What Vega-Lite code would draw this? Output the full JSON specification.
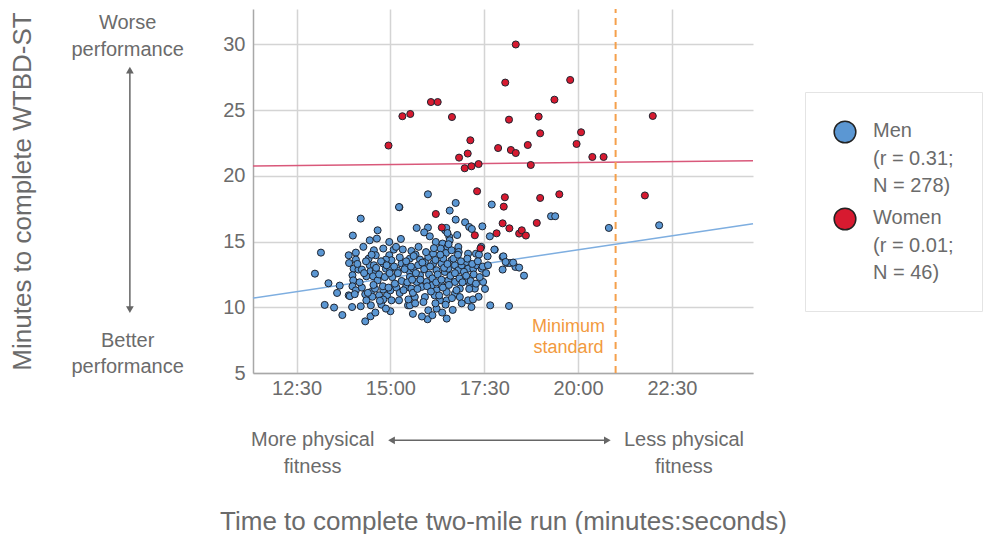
{
  "$schema": "https://vega.github.io/schema/vega-lite/v6.json",
  "width": 500,
  "height": 364,
  "autosize": {"type": "none"},
  "padding": {"left": 253, "top": 9, "right": 237, "bottom": 161},
  "background": "white",
  "config": {
    "font": "Liberation Sans",
    "view": {"stroke": null},
    "axis": {
      "labelFontSize": 20,
      "labelColor": "#6b6b6b",
      "titleColor": "#6b6b6b",
      "titleFontSize": 26,
      "titleFontWeight": "normal",
      "gridColor": "#d4d4d4",
      "gridWidth": 1.5,
      "domainColor": "#a8a8a8",
      "domainWidth": 1.5,
      "ticks": false
    },
    "legend": {
      "orient": "none",
      "legendX": 552,
      "legendY": 83,
      "fillColor": "white",
      "strokeColor": "#e4e4e4",
      "padding": 28,
      "labelFontSize": 20,
      "labelColor": "#6b6b6b",
      "labelLimit": 400,
      "labelOffset": 16,
      "labelBaseline": "alphabetic",
      "symbolSize": 470,
      "symbolType": "circle",
      "symbolStrokeColor": "#222222",
      "symbolStrokeWidth": 1.5,
      "symbolOpacity": 1,
      "rowPadding": 9
    }
  },
  "datasets": {
    "runners": [
      {"sex":"Men","run":16.00,"wtbd":18.60},{"sex":"Men","run":15.24,"wtbd":17.61},{"sex":"Men","run":16.74,"wtbd":17.94},{"sex":"Men","run":16.58,"wtbd":17.36},{"sex":"Men","run":15.70,"wtbd":16.04},{"sex":"Men","run":16.00,"wtbd":16.07},{"sex":"Men","run":16.74,"wtbd":16.67},{"sex":"Men","run":16.99,"wtbd":16.47},{"sex":"Men","run":17.10,"wtbd":16.11},{"sex":"Men","run":17.17,"wtbd":15.96},{"sex":"Men","run":17.45,"wtbd":16.16},{"sex":"Men","run":17.70,"wtbd":17.82},{"sex":"Men","run":19.28,"wtbd":16.93},{"sex":"Men","run":19.39,"wtbd":16.93},{"sex":"Men","run":20.82,"wtbd":16.04},{"sex":"Men","run":16.46,"wtbd":15.86},{"sex":"Men","run":16.57,"wtbd":15.35},{"sex":"Men","run":22.16,"wtbd":16.24},
      {"sex":"Men","run":17.65,"wtbd":15.40},{"sex":"Men","run":17.78,"wtbd":14.39},{"sex":"Men","run":17.99,"wtbd":13.83},{"sex":"Men","run":18.10,"wtbd":13.37},{"sex":"Men","run":18.18,"wtbd":13.37},{"sex":"Men","run":18.33,"wtbd":13.07},{"sex":"Men","run":18.43,"wtbd":13.02},{"sex":"Men","run":17.99,"wtbd":12.87},{"sex":"Men","run":18.56,"wtbd":12.41},{"sex":"Men","run":17.66,"wtbd":10.15},{"sex":"Men","run":18.16,"wtbd":10.10},
      {"sex":"Men","run":12.99,"wtbd":12.56},{"sex":"Men","run":13.15,"wtbd":14.16},{"sex":"Men","run":13.35,"wtbd":11.83},{"sex":"Men","run":13.25,"wtbd":10.18},{"sex":"Men","run":13.50,"wtbd":9.98},{"sex":"Men","run":13.58,"wtbd":11.09},{"sex":"Men","run":13.65,"wtbd":11.65},{"sex":"Men","run":13.72,"wtbd":9.41},{"sex":"Men","run":13.89,"wtbd":10.91},{"sex":"Men","run":13.98,"wtbd":10.02},{"sex":"Men","run":14.21,"wtbd":16.75},{"sex":"Men","run":14.00,"wtbd":15.46},
      {"sex":"Men","run":15.23,"wtbd":17.63},{"sex":"Men","run":14.66,"wtbd":15.86},{"sex":"Men","run":14.64,"wtbd":15.23},{"sex":"Men","run":14.97,"wtbd":14.97},{"sex":"Men","run":14.21,"wtbd":10.08},{"sex":"Men","run":14.48,"wtbd":10.15},{"sex":"Men","run":14.33,"wtbd":8.93},{"sex":"Men","run":14.47,"wtbd":9.31},{"sex":"Men","run":14.76,"wtbd":10.20},{"sex":"Men","run":15.00,"wtbd":9.70},{"sex":"Men","run":15.23,"wtbd":10.53},{"sex":"Men","run":15.47,"wtbd":10.15},
      {"sex":"Men","run":13.89,"wtbd":13.96},{"sex":"Men","run":14.08,"wtbd":14.16},{"sex":"Men","run":13.90,"wtbd":13.37},{"sex":"Men","run":14.08,"wtbd":13.63},{"sex":"Men","run":14.02,"wtbd":12.94},{"sex":"Men","run":13.99,"wtbd":12.44},{"sex":"Men","run":14.15,"wtbd":12.87},{"sex":"Men","run":14.24,"wtbd":12.87},{"sex":"Men","run":14.45,"wtbd":13.20},{"sex":"Men","run":14.56,"wtbd":13.20},{"sex":"Men","run":14.47,"wtbd":12.74},{"sex":"Men","run":14.61,"wtbd":12.76},{"sex":"Men","run":14.36,"wtbd":12.36},{"sex":"Men","run":14.54,"wtbd":12.36},{"sex":"Men","run":14.66,"wtbd":12.05},{"sex":"Men","run":14.88,"wtbd":12.94},{"sex":"Men","run":14.99,"wtbd":12.94},{"sex":"Men","run":15.18,"wtbd":12.82},{"sex":"Men","run":15.30,"wtbd":13.33},{"sex":"Men","run":15.41,"wtbd":13.07},{"sex":"Men","run":15.52,"wtbd":12.69},
      {"sex":"Men","run":14.56,"wtbd":14.34},{"sex":"Men","run":14.61,"wtbd":13.96},{"sex":"Men","run":14.81,"wtbd":14.47},{"sex":"Men","run":14.97,"wtbd":13.96},{"sex":"Men","run":15.09,"wtbd":14.39},{"sex":"Men","run":15.03,"wtbd":13.58},{"sex":"Men","run":14.88,"wtbd":13.63},{"sex":"Men","run":14.81,"wtbd":13.33},
      {"sex":"Men","run":14.01,"wtbd":12.05},{"sex":"Men","run":13.99,"wtbd":11.60},{"sex":"Men","run":13.92,"wtbd":10.85},{"sex":"Men","run":14.08,"wtbd":11.29},{"sex":"Men","run":14.24,"wtbd":11.50},{"sex":"Men","run":14.33,"wtbd":10.99},{"sex":"Men","run":14.48,"wtbd":11.16},{"sex":"Men","run":14.59,"wtbd":11.42},{"sex":"Men","run":14.70,"wtbd":10.91},{"sex":"Men","run":14.81,"wtbd":11.35},{"sex":"Men","run":14.91,"wtbd":10.91},{"sex":"Men","run":15.00,"wtbd":11.29},{"sex":"Men","run":15.16,"wtbd":11.50},{"sex":"Men","run":15.25,"wtbd":11.09},{"sex":"Men","run":15.41,"wtbd":11.50},{"sex":"Men","run":14.81,"wtbd":10.59},{"sex":"Men","run":15.03,"wtbd":10.53},{"sex":"Men","run":14.36,"wtbd":10.53},
      {"sex":"Men","run":16.49,"wtbd":16.04},{"sex":"Men","run":16.52,"wtbd":15.65},{"sex":"Men","run":16.21,"wtbd":14.97},{"sex":"Men","run":16.39,"wtbd":14.85},{"sex":"Men","run":16.34,"wtbd":14.47},{"sex":"Men","run":16.52,"wtbd":14.59},{"sex":"Men","run":16.48,"wtbd":14.13},{"sex":"Men","run":16.63,"wtbd":14.34},{"sex":"Men","run":16.81,"wtbd":14.59},{"sex":"Men","run":16.82,"wtbd":14.21},{"sex":"Men","run":17.07,"wtbd":14.08},{"sex":"Men","run":17.28,"wtbd":14.08},{"sex":"Men","run":17.36,"wtbd":14.01},{"sex":"Men","run":17.59,"wtbd":13.88},{"sex":"Men","run":17.77,"wtbd":14.39},{"sex":"Men","run":18.01,"wtbd":13.88},{"sex":"Men","run":18.07,"wtbd":13.45},{"sex":"Men","run":18.27,"wtbd":13.40},
      {"sex":"Men","run":15.56,"wtbd":14.29},{"sex":"Men","run":15.52,"wtbd":13.71},{"sex":"Men","run":15.67,"wtbd":14.01},{"sex":"Men","run":15.79,"wtbd":13.63},{"sex":"Men","run":15.61,"wtbd":12.94},{"sex":"Men","run":15.74,"wtbd":13.20},{"sex":"Men","run":15.92,"wtbd":13.45},{"sex":"Men","run":16.01,"wtbd":13.83},{"sex":"Men","run":16.14,"wtbd":14.08},{"sex":"Men","run":16.14,"wtbd":13.33},{"sex":"Men","run":16.23,"wtbd":12.82},{"sex":"Men","run":16.36,"wtbd":13.33},{"sex":"Men","run":16.41,"wtbd":13.71},{"sex":"Men","run":16.45,"wtbd":12.69},{"sex":"Men","run":16.54,"wtbd":12.94},{"sex":"Men","run":16.63,"wtbd":13.58},{"sex":"Men","run":16.72,"wtbd":13.20},{"sex":"Men","run":16.81,"wtbd":12.82},{"sex":"Men","run":16.90,"wtbd":13.20},{"sex":"Men","run":17.03,"wtbd":13.45},{"sex":"Men","run":17.07,"wtbd":12.94},{"sex":"Men","run":17.21,"wtbd":12.94},{"sex":"Men","run":17.30,"wtbd":13.20},{"sex":"Men","run":17.43,"wtbd":12.94},{"sex":"Men","run":17.47,"wtbd":11.93},{"sex":"Men","run":17.25,"wtbd":11.42},{"sex":"Men","run":17.12,"wtbd":11.80},{"sex":"Men","run":16.98,"wtbd":12.05},{"sex":"Men","run":16.85,"wtbd":11.42},{"sex":"Men","run":16.72,"wtbd":11.93},{"sex":"Men","run":16.54,"wtbd":12.05},{"sex":"Men","run":16.50,"wtbd":11.16},{"sex":"Men","run":16.36,"wtbd":11.67},{"sex":"Men","run":16.23,"wtbd":11.29},{"sex":"Men","run":16.10,"wtbd":11.67},{"sex":"Men","run":15.96,"wtbd":11.93},{"sex":"Men","run":15.83,"wtbd":11.55},{"sex":"Men","run":15.70,"wtbd":11.93},{"sex":"Men","run":15.56,"wtbd":11.42},{"sex":"Men","run":15.52,"wtbd":12.31},{"sex":"Men","run":15.79,"wtbd":12.44},{"sex":"Men","run":15.65,"wtbd":10.78},{"sex":"Men","run":15.92,"wtbd":10.78},{"sex":"Men","run":16.18,"wtbd":10.91},{"sex":"Men","run":16.32,"wtbd":10.53},{"sex":"Men","run":16.50,"wtbd":10.53},{"sex":"Men","run":16.72,"wtbd":11.04},{"sex":"Men","run":16.85,"wtbd":10.78},{"sex":"Men","run":17.07,"wtbd":10.53},{"sex":"Men","run":17.16,"wtbd":10.02},{"sex":"Men","run":15.52,"wtbd":10.15},{"sex":"Men","run":16.01,"wtbd":9.77},{"sex":"Men","run":15.99,"wtbd":9.09},{"sex":"Men","run":16.50,"wtbd":9.14},{"sex":"Men","run":16.23,"wtbd":9.90},
      {"sex":"Men","run":15.05,"wtbd":12.30},{"sex":"Men","run":15.10,"wtbd":13.10},{"sex":"Men","run":15.12,"wtbd":11.80},{"sex":"Men","run":15.20,"wtbd":12.60},{"sex":"Men","run":15.25,"wtbd":13.80},{"sex":"Men","run":15.30,"wtbd":12.00},{"sex":"Men","run":15.35,"wtbd":11.30},{"sex":"Men","run":15.38,"wtbd":12.90},{"sex":"Men","run":15.42,"wtbd":13.50},{"sex":"Men","run":15.45,"wtbd":11.90},{"sex":"Men","run":15.48,"wtbd":10.60},{"sex":"Men","run":15.33,"wtbd":14.40},{"sex":"Men","run":15.15,"wtbd":14.60},{"sex":"Men","run":15.28,"wtbd":15.20},
      {"sex":"Men","run":14.42,"wtbd":13.70},{"sex":"Men","run":14.50,"wtbd":14.00},{"sex":"Men","run":14.55,"wtbd":11.70},{"sex":"Men","run":14.62,"wtbd":13.00},{"sex":"Men","run":14.70,"wtbd":12.50},{"sex":"Men","run":14.75,"wtbd":13.50},{"sex":"Men","run":14.80,"wtbd":11.60},{"sex":"Men","run":14.85,"wtbd":12.30},{"sex":"Men","run":14.90,"wtbd":13.20},{"sex":"Men","run":14.95,"wtbd":11.50},{"sex":"Men","run":14.98,"wtbd":12.60},{"sex":"Men","run":14.72,"wtbd":10.50},{"sex":"Men","run":14.88,"wtbd":9.90},{"sex":"Men","run":14.60,"wtbd":9.60},{"sex":"Men","run":14.52,"wtbd":10.80},
      {"sex":"Men","run":15.55,"wtbd":13.10},{"sex":"Men","run":15.60,"wtbd":11.10},{"sex":"Men","run":15.62,"wtbd":13.90},{"sex":"Men","run":15.68,"wtbd":12.60},{"sex":"Men","run":15.72,"wtbd":11.40},{"sex":"Men","run":15.75,"wtbd":14.60},{"sex":"Men","run":15.80,"wtbd":12.10},{"sex":"Men","run":15.85,"wtbd":13.40},{"sex":"Men","run":15.88,"wtbd":10.40},{"sex":"Men","run":15.90,"wtbd":12.90},{"sex":"Men","run":15.95,"wtbd":14.20},{"sex":"Men","run":15.98,"wtbd":11.60},{"sex":"Men","run":15.58,"wtbd":12.10},{"sex":"Men","run":15.66,"wtbd":10.30},{"sex":"Men","run":15.90,"wtbd":15.70},{"sex":"Men","run":15.60,"wtbd":9.50},{"sex":"Men","run":15.84,"wtbd":9.30},
      {"sex":"Men","run":16.03,"wtbd":12.50},{"sex":"Men","run":16.06,"wtbd":13.10},{"sex":"Men","run":16.08,"wtbd":11.20},{"sex":"Men","run":16.12,"wtbd":12.20},{"sex":"Men","run":16.16,"wtbd":14.50},{"sex":"Men","run":16.20,"wtbd":13.60},{"sex":"Men","run":16.22,"wtbd":11.90},{"sex":"Men","run":16.26,"wtbd":12.50},{"sex":"Men","run":16.30,"wtbd":10.90},{"sex":"Men","run":16.33,"wtbd":14.00},{"sex":"Men","run":16.36,"wtbd":12.10},{"sex":"Men","run":16.40,"wtbd":11.50},{"sex":"Men","run":16.43,"wtbd":13.00},{"sex":"Men","run":16.47,"wtbd":10.20},{"sex":"Men","run":16.05,"wtbd":15.40},{"sex":"Men","run":16.12,"wtbd":9.40},{"sex":"Men","run":16.38,"wtbd":9.60},{"sex":"Men","run":16.20,"wtbd":10.30},
      {"sex":"Men","run":16.52,"wtbd":13.30},{"sex":"Men","run":16.56,"wtbd":11.70},{"sex":"Men","run":16.60,"wtbd":12.40},{"sex":"Men","run":16.64,"wtbd":10.70},{"sex":"Men","run":16.68,"wtbd":13.70},{"sex":"Men","run":16.72,"wtbd":12.60},{"sex":"Men","run":16.76,"wtbd":11.30},{"sex":"Men","run":16.80,"wtbd":14.00},{"sex":"Men","run":16.84,"wtbd":12.20},{"sex":"Men","run":16.88,"wtbd":13.50},{"sex":"Men","run":16.92,"wtbd":11.90},{"sex":"Men","run":16.96,"wtbd":12.70},{"sex":"Men","run":16.58,"wtbd":15.10},{"sex":"Men","run":16.78,"wtbd":15.50},{"sex":"Men","run":16.66,"wtbd":9.80},{"sex":"Men","run":16.90,"wtbd":10.30},{"sex":"Men","run":16.55,"wtbd":14.80},
      {"sex":"Men","run":17.02,"wtbd":12.40},{"sex":"Men","run":17.05,"wtbd":13.70},{"sex":"Men","run":17.10,"wtbd":11.40},{"sex":"Men","run":17.14,"wtbd":12.00},{"sex":"Men","run":17.18,"wtbd":13.30},{"sex":"Men","run":17.22,"wtbd":12.50},{"sex":"Men","run":17.28,"wtbd":11.80},{"sex":"Men","run":17.33,"wtbd":13.50},{"sex":"Men","run":17.38,"wtbd":12.30},{"sex":"Men","run":17.42,"wtbd":14.60},{"sex":"Men","run":17.46,"wtbd":13.10},{"sex":"Men","run":17.35,"wtbd":10.80},{"sex":"Men","run":17.20,"wtbd":10.60},{"sex":"Men","run":17.55,"wtbd":12.60},{"sex":"Men","run":17.60,"wtbd":13.20},{"sex":"Men","run":17.52,"wtbd":11.40},
      {"sex":"Men","run":14.05,"wtbd":11.00},{"sex":"Men","run":14.12,"wtbd":13.30},{"sex":"Men","run":14.18,"wtbd":11.90},{"sex":"Men","run":14.30,"wtbd":12.60},{"sex":"Men","run":14.35,"wtbd":13.50},{"sex":"Men","run":14.40,"wtbd":11.10},{"sex":"Men","run":14.28,"wtbd":14.60},{"sex":"Men","run":14.45,"wtbd":15.10},
      {"sex":"Women","run":18.34,"wtbd":30.00},{"sex":"Women","run":18.06,"wtbd":27.10},{"sex":"Women","run":19.79,"wtbd":27.30},{"sex":"Women","run":16.08,"wtbd":25.62},{"sex":"Women","run":16.26,"wtbd":25.62},{"sex":"Women","run":19.37,"wtbd":25.80},{"sex":"Women","run":15.32,"wtbd":24.54},{"sex":"Women","run":15.53,"wtbd":24.71},{"sex":"Women","run":16.64,"wtbd":24.48},{"sex":"Women","run":18.16,"wtbd":24.28},{"sex":"Women","run":18.95,"wtbd":24.51},{"sex":"Women","run":21.99,"wtbd":24.56},{"sex":"Women","run":18.99,"wtbd":23.24},{"sex":"Women","run":20.08,"wtbd":23.32},{"sex":"Women","run":14.95,"wtbd":22.31},{"sex":"Women","run":17.13,"wtbd":22.71},{"sex":"Women","run":17.87,"wtbd":22.12},{"sex":"Women","run":18.21,"wtbd":21.97},{"sex":"Women","run":18.34,"wtbd":21.74},{"sex":"Women","run":18.66,"wtbd":22.35},{"sex":"Women","run":19.96,"wtbd":22.43},{"sex":"Women","run":17.06,"wtbd":21.70},{"sex":"Women","run":16.83,"wtbd":21.39},{"sex":"Women","run":20.38,"wtbd":21.44},{"sex":"Women","run":20.68,"wtbd":21.44},{"sex":"Women","run":16.98,"wtbd":20.58},{"sex":"Women","run":17.16,"wtbd":20.73},{"sex":"Women","run":17.35,"wtbd":20.90},{"sex":"Women","run":18.74,"wtbd":20.83},
      {"sex":"Women","run":17.31,"wtbd":18.83},{"sex":"Women","run":18.05,"wtbd":18.37},{"sex":"Women","run":18.02,"wtbd":17.66},{"sex":"Women","run":18.99,"wtbd":18.32},{"sex":"Women","run":19.50,"wtbd":18.60},{"sex":"Women","run":16.21,"wtbd":17.10},{"sex":"Women","run":16.37,"wtbd":16.07},{"sex":"Women","run":17.25,"wtbd":15.48},{"sex":"Women","run":17.83,"wtbd":15.63},{"sex":"Women","run":17.99,"wtbd":16.39},{"sex":"Women","run":18.17,"wtbd":16.01},{"sex":"Women","run":18.43,"wtbd":15.61},{"sex":"Women","run":18.50,"wtbd":15.86},{"sex":"Women","run":18.61,"wtbd":15.46},{"sex":"Women","run":18.90,"wtbd":16.42},{"sex":"Women","run":21.78,"wtbd":18.51},{"sex":"Women","run":17.40,"wtbd":14.49}
    ],
    "men_fit": [{"run": 11.34, "wtbd": 10.70}, {"run": 24.66, "wtbd": 16.35}],
    "women_fit": [{"run": 11.34, "wtbd": 20.75}, {"run": 24.66, "wtbd": 21.16}],
    "standard": [{"run": 21, "wtbd": 5}, {"run": 21, "wtbd": 32.7}],
    "standard_label": [{"note": "Minimum\nstandard", "run": 21, "wtbd": 8.48}],
    "notes": [
      {"note": "Worse\nperformance", "run": 8.0, "wtbd": 31.61},
      {"note": "Better\nperformance", "run": 8.0, "wtbd": 7.47},
      {"note": "More physical\nfitness", "run": 12.93, "wtbd": -0.12},
      {"note": "Less physical\nfitness", "run": 22.82, "wtbd": -0.12}
    ],
    "arrows": [
      {"arrow": "performance", "run": 8.06, "wtbd": 28.0},
      {"arrow": "performance", "run": 8.06, "wtbd": 9.9},
      {"arrow": "fitness", "run": 15.05, "wtbd": -0.12},
      {"arrow": "fitness", "run": 20.76, "wtbd": -0.12}
    ],
    "arrowheads": [
      {"dir": "up", "run": 8.06, "wtbd": 28.05},
      {"dir": "down", "run": 8.06, "wtbd": 9.83},
      {"dir": "left", "run": 15.03, "wtbd": -0.12},
      {"dir": "right", "run": 20.78, "wtbd": -0.12}
    ]
  },
  "encoding": {
    "x": {
      "field": "run",
      "type": "quantitative",
      "scale": {"domain": [11.34, 24.66], "nice": false, "zero": false},
      "axis": {
        "values": [12.5, 15, 17.5, 20, 22.5],
        "labelExpr": "floor(datum.value) + ':' + (datum.value % 1 == 0.5 ? '30' : '00')",
        "labelPadding": 5,
        "title": "Time to complete two-mile run (minutes:seconds)",
        "titlePadding": 110
      }
    },
    "y": {
      "field": "wtbd",
      "type": "quantitative",
      "scale": {"domain": [5, 32.7], "nice": false, "zero": false},
      "axis": {
        "values": [5, 10, 15, 20, 25, 30],
        "labelPadding": 8,
        "title": "Minutes to complete WTBD-ST",
        "titlePadding": 187
      }
    }
  },
  "layer": [
    {
      "data": {"name": "men_fit"},
      "mark": {"type": "line", "color": "#7eaee0", "strokeWidth": 1.5},
      "encoding": {}
    },
    {
      "data": {"name": "women_fit"},
      "mark": {"type": "line", "color": "#d9587a", "strokeWidth": 1.5},
      "encoding": {}
    },
    {
      "data": {"name": "runners"},
      "mark": {"type": "circle", "size": 50, "opacity": 1, "stroke": "#1e2430", "strokeWidth": 1},
      "encoding": {
        "color": {
          "field": "sex",
          "type": "nominal",
          "scale": {"domain": ["Men", "Women"], "range": ["#5b97d3", "#d71a30"]},
          "legend": {
            "title": null,
            "labelExpr": "datum.label == 'Men' ? ['Men', '(r = 0.31;', 'N = 278)'] : ['Women', '(r = 0.01;', 'N = 46)']",
            "encode": {"labels": {"update": {"lineHeight": {"value": 27.5}, "dy": {"value": 5}}}}
          }
        }
      }
    },
    {
      "data": {"name": "standard"},
      "mark": {"type": "line", "color": "#f5a04c", "strokeWidth": 2, "strokeDash": [7, 5]},
      "encoding": {}
    },
    {
      "data": {"name": "standard_label"},
      "mark": {"type": "text", "color": "#f29a3e", "fontSize": 18, "lineBreak": "\n", "lineHeight": 21, "align": "center", "baseline": "middle", "dx": -47},
      "encoding": {"text": {"field": "note"}}
    },
    {
      "data": {"name": "notes"},
      "mark": {"type": "text", "color": "#6b6b6b", "fontSize": 20, "lineBreak": "\n", "lineHeight": 26.5, "align": "center", "baseline": "middle"},
      "encoding": {"text": {"field": "note"}}
    },
    {
      "data": {"name": "arrows"},
      "mark": {"type": "line", "color": "#666666", "strokeWidth": 1.5},
      "encoding": {"detail": {"field": "arrow"}}
    },
    {
      "data": {"name": "arrowheads"},
      "mark": {"type": "point", "filled": true, "size": 60, "opacity": 1, "color": "#666666"},
      "encoding": {
        "shape": {
          "field": "dir",
          "type": "nominal",
          "scale": {"domain": ["up", "down", "left", "right"], "range": ["triangle-up", "triangle-down", "triangle-left", "triangle-right"]},
          "legend": null
        }
      }
    }
  ]
}
